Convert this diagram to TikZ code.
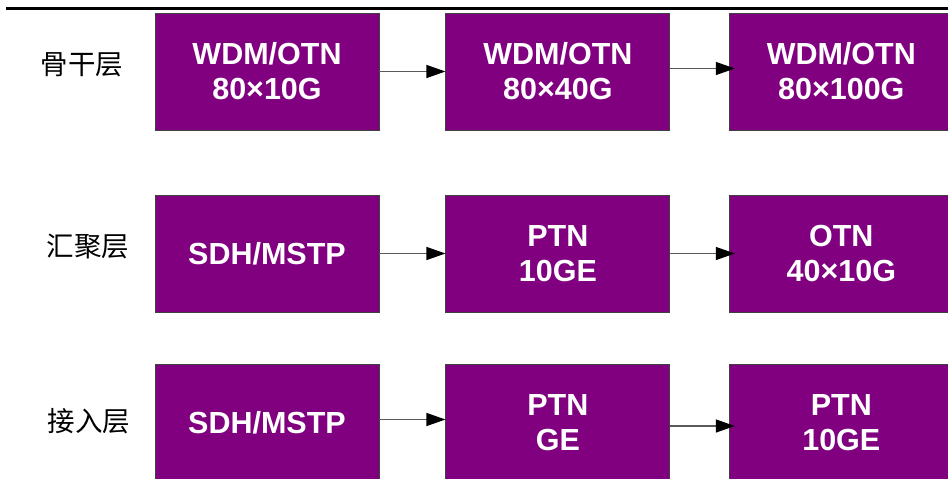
\documentclass[tikz,border=0pt]{standalone}
\usepackage{fontspec}
\setmainfont{Liberation Sans}
\newfontfamily\cjk{Noto Sans CJK SC}
\usepackage{xcolor}
\usetikzlibrary{positioning,arrows.meta}
\definecolor{techpurple}{HTML}{800080}

\begin{document}
\begin{tikzpicture}[
  x=1pt, y=-1pt,
  node distance=66pt,
  tech/.style={draw=black!75, line width=0.9pt, fill=techpurple, text=white,
               align=center, inner sep=0pt,
               minimum width=224pt, minimum height=117pt,
               font=\fontsize{30.5}{35}\selectfont\bfseries},
  layer/.style={font=\cjk\fontsize{27.5}{30}\selectfont},
  arr/.style={-{Triangle[length=19pt, width=13pt, black]}, line width=1.2pt, black!65}
]
\useasboundingbox (0,0) rectangle (948,479);
\draw[line width=2.4pt] (6,8.3) -- (948,8.3);
% backbone
\node[tech] at (267,71.5) (bb1) {WDM/OTN\\80×10G};
\node[tech, right=of bb1] (bb2) {WDM/OTN\\80×40G};
\node[tech, right=58.5pt of bb2] (bb3) {WDM/OTN\\80×100G};
% aggregation
\node[tech] at (267,253.5) (ag1) {SDH/MSTP};
\node[tech, right=of ag1] (ag2) {PTN\\10GE};
\node[tech, right=58.5pt of ag2] (ag3) {OTN\\40×10G};
% access
\node[tech] at (267,422.5) (ac1) {SDH/MSTP};
\node[tech, right=of ac1] (ac2) {PTN\\GE};
\node[tech, right=58.5pt of ac2] (ac3) {PTN\\10GE};
% layer names
\node[layer] at (82,65) (bbl) {骨干层};
\node[layer] at (88,246) (agl) {汇聚层};
\node[layer] at (89,421) (acl) {接入层};
\foreach \a/\b/\dy/\ov in {bb1/bb2/0/0, bb2/bb3/3/6, ag1/ag2/0/0, ag2/ag3/0/6, ac1/ac2/3/0, ac2/ac3/-3.5/6}
  \draw[arr, shorten >=-\ov pt] ([yshift=\dy pt]\a.east) -- ([yshift=\dy pt]\b.west);
\end{tikzpicture}
\end{document}
